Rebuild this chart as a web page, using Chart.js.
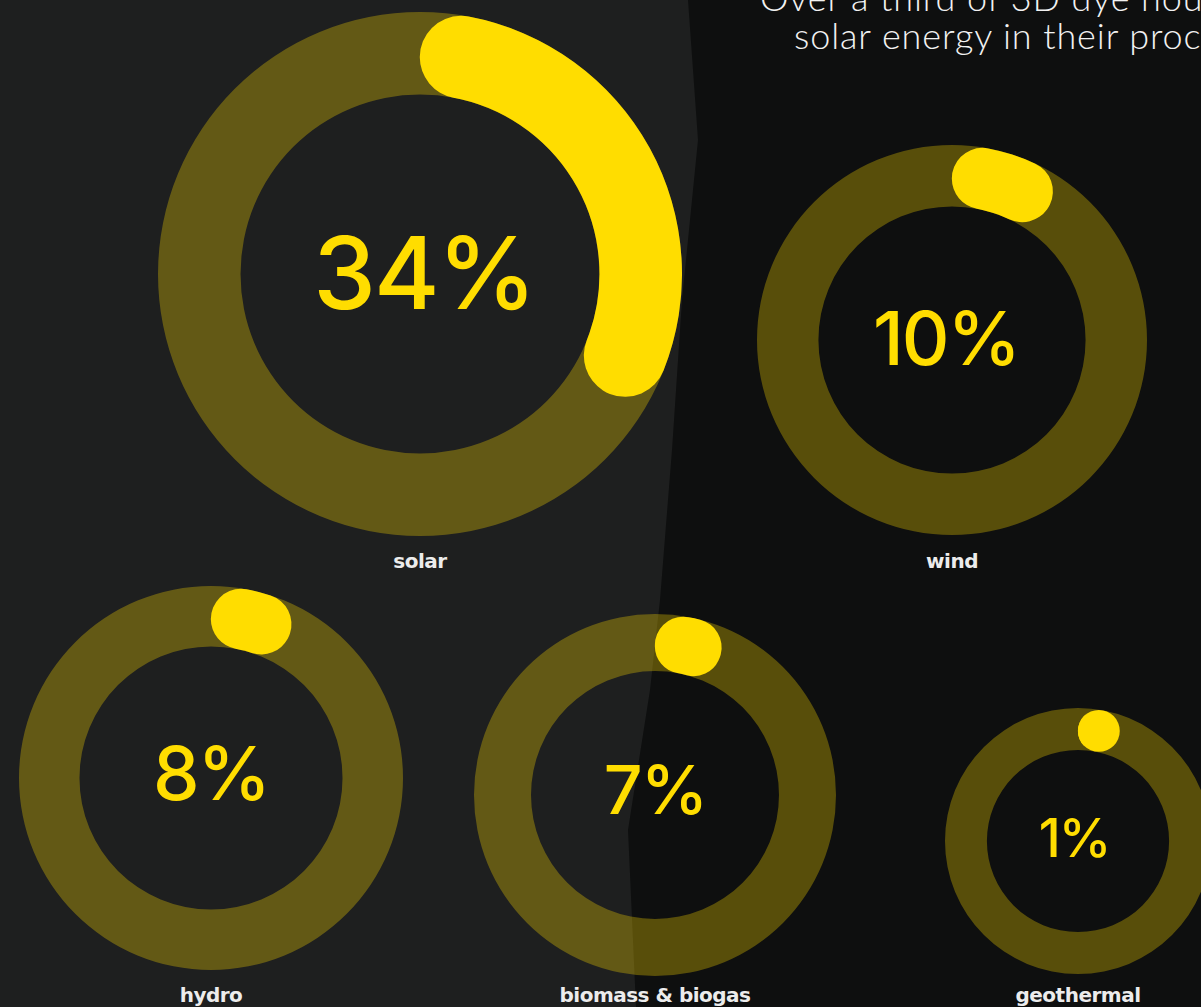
<!DOCTYPE html>
<html lang="en">
<head>
  <meta charset="UTF-8">
  <title>Renewable energy use in dye houses</title>
  <style>
    html, body { margin: 0; padding: 0; }
    body { width: 1201px; height: 1007px; overflow: hidden; background: #1e1f1f; font-family: Lato, "Open Sans", sans-serif; position: relative; }
    .shade { position: absolute; inset: 0; background: #0e0f0f;
      clip-path: polygon(688px 0, 698px 140px, 682px 300px, 672px 450px, 660px 600px, 650px 690px, 628px 830px, 636px 1007px, 1201px 1007px, 1201px 0); }
    .title { position: absolute; color: #f2f2f2; font-weight: 300; font-size: 36px; white-space: nowrap; letter-spacing: 0.9px; }
    .ring { position: absolute; }
    .pct { position: absolute; color: #ffdd00; font-family: Inter, Lato, sans-serif; font-weight: 500; transform: translate(-50%, -50%); white-space: nowrap; letter-spacing: -2px; }
    .name { position: absolute; color: #ececec; font-family: "DejaVu Sans", sans-serif; font-weight: 700; font-size: 20px; transform: translate(-50%, -50%); white-space: nowrap; letter-spacing: -0.5px; }
  </style>
</head>
<body>
  <div class="shade"></div>
  <div class="title" style="left:760px; top:-25px;">Over a third of 3D dye houses use</div>
  <div class="title" style="left:794px; top:13px;">solar energy in their processes</div>
  <div id="charts"></div>

  <script src="https://cdn.jsdelivr.net/npm/chart.js"></script>
  <script>
    const sources = ['solar', 'wind', 'hydro', 'biomass & biogas', 'geothermal'];
    const shares = [34, 10, 8, 7, 1];
    const shareLabels = ['34%', '10%', '8%', '7%', '1%'];

    // where each ring sits on the page
    const rings = [
      { cx: 420, cy: 274, r: 262, font: 100, tx: 424, ty: 272, ly: 561 },
      { cx: 952, cy: 340, r: 195, font: 74, tx: 946, ty: 338, ly: 561 },
      { cx: 211, cy: 778, r: 192, font: 74, tx: 211, ty: 773, ly: 995 },
      { cx: 655, cy: 795, r: 181, font: 68, tx: 655, ty: 789, ly: 995 },
      { cx: 1078, cy: 841, r: 133, font: 53, tx: 1074, ty: 838, ly: 995 }
    ];

    const YELLOW = '#ffdd00';
    const TRACK = 'rgba(255, 218, 0, 0.31)';

    function capInfo(arc) {
      const half = (arc.outerRadius - arc.innerRadius) / 2;
      const mid = arc.innerRadius + half;
      const short = (arc.endAngle - arc.startAngle) * mid < half * 2;
      const a = arc.startAngle + half / mid;
      return { half, mid, short, x: arc.x + Math.cos(a) * mid, y: arc.y + Math.sin(a) * mid };
    }

    // full background track under the value arc; an arc too short for round caps becomes a dot
    const trackPlugin = {
      id: 'track',
      beforeDatasetsDraw(chart) {
        const arc = chart.getDatasetMeta(0).data[0];
        const ctx = chart.ctx;
        ctx.save();
        ctx.fillStyle = TRACK;
        ctx.beginPath();
        ctx.arc(arc.x, arc.y, arc.outerRadius, 0, Math.PI * 2);
        ctx.arc(arc.x, arc.y, arc.innerRadius, 0, Math.PI * 2, true);
        ctx.fill();
        ctx.restore();
        const cap = capInfo(arc);
        if (cap.short) {
          ctx.save();
          ctx.beginPath();
          ctx.arc(cap.x, cap.y, cap.half, 0, Math.PI * 2);
          ctx.clip();
        }
      },
      afterDatasetsDraw(chart) {
        const arc = chart.getDatasetMeta(0).data[0];
        const cap = capInfo(arc);
        if (!cap.short) return;
        const ctx = chart.ctx;
        ctx.restore();
        ctx.save();
        ctx.fillStyle = YELLOW;
        ctx.beginPath();
        ctx.arc(cap.x, cap.y, cap.half, 0, Math.PI * 2);
        ctx.fill();
        ctx.restore();
      }
    };

    const holder = document.getElementById('charts');

    sources.forEach((name, i) => {
      const g = rings[i];
      const box = document.createElement('div');
      box.className = 'ring';
      box.style.left = (g.cx - g.r) + 'px';
      box.style.top = (g.cy - g.r) + 'px';
      box.style.width = (g.r * 2) + 'px';
      box.style.height = (g.r * 2) + 'px';
      const canvas = document.createElement('canvas');
      box.appendChild(canvas);
      holder.appendChild(box);

      const pct = document.createElement('div');
      pct.className = 'pct';
      pct.style.left = g.tx + 'px';
      pct.style.top = g.ty + 'px';
      pct.style.fontSize = g.font + 'px';
      pct.textContent = shareLabels[i];
      holder.appendChild(pct);

      const label = document.createElement('div');
      label.className = 'name';
      label.style.left = g.cx + 'px';
      label.style.top = g.ly + 'px';
      label.textContent = name;
      holder.appendChild(label);

      new Chart(canvas, {
        type: 'doughnut',
        data: {
          labels: [name, 'other'],
          datasets: [{
            data: [shares[i], 100 - shares[i]],
            backgroundColor: [YELLOW, 'transparent'],
            borderWidth: 0,
            hoverOffset: 0,
            borderRadius: (c) => c.dataIndex === 0 ? 999 : 0
          }]
        },
        options: {
          responsive: true,
          maintainAspectRatio: false,
          animation: false,
          cutout: '68.5%',
          rotation: 0,
          layout: { padding: 0 },
          events: [],
          plugins: { legend: { display: false }, tooltip: { enabled: false } }
        },
        plugins: [trackPlugin]
      });
    });
  </script>
</body>
</html>
